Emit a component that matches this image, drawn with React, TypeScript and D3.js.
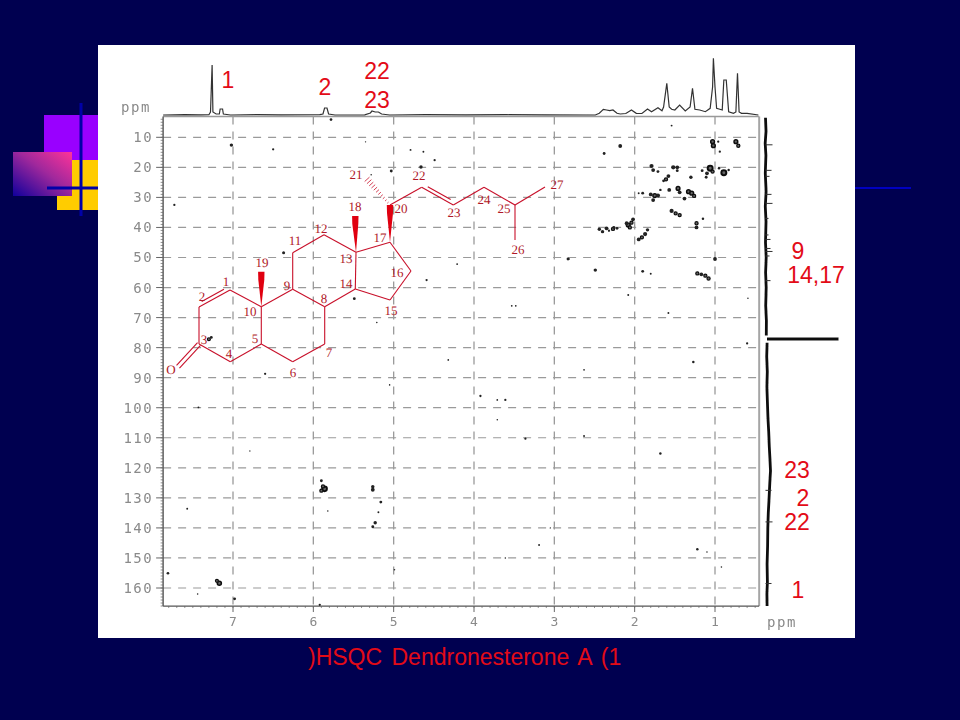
import React from "react";
import * as d3 from "d3";

const xTicks = [1, 2, 3, 4, 5, 6, 7];
const yTicks = [10, 20, 30, 40, 50, 60, 70, 80, 90, 100, 110, 120, 130, 140, 150, 160];

// [1H ppm, 13C ppm, contour size]
const crossPeaks: [number, number, number][] = [
  [1.03,11.45,3],[1.02,12.8,3],[0.96,11.45,1.2],[0.94,14.8,1.2],[0.74,11.45,3],[0.71,12.8,2.5],[2.18,12.9,2],[2.38,15.4,1.5],
  [1.79,19.55,2.2],[1.77,20.9,2],[1.71,21.4,1.5],[1.52,20,2.2],[1.47,20,2],[1.47,21.1,1.5],
  [1.06,20.3,4],[1.03,21.4,2.5],[1.10,22,2],[1.11,23.3,1.5],[1.16,21.1,1.5],
  [0.89,21.8,4],[0.95,20.3,1.3],[0.83,20.9,1.3],[1.30,23.3,1.8],
  [1.58,22.9,2],[1.61,24,2.5],[1.64,24.5,1.5],[1.57,27.5,2],[1.68,27.5,1.3],
  [1.46,27,3],[1.44,28.3,2],[1.33,28.1,3],[1.29,28.6,3],[1.26,29.5,2.5],[1.38,30.4,2],
  [1.75,29.4,3],[1.71,29.4,2.2],[1.77,30.9,2],[1.80,29,2],[1.95,28.6,1],[1.90,28.6,1.5],
  [1.54,34.5,2.2],[1.49,35.3,2.5],[1.44,35.9,2.5],
  [1.23,38.6,2.5],[1.23,40,2],[1.15,37.1,1.3],
  [2.08,39.2,3],[2.04,38.4,2.5],[2.02,37.3,2],[2.10,38.6,2],[2.06,40,2.5],
  [2.44,40.6,1.8],[2.40,41.4,1.8],[2.35,40.3,2],[2.32,41.1,1.2],[2.27,40.5,2.5],[2.26,40,1.5],[2.22,40.3,1.5],
  [1.95,44,2],[1.91,43.3,2.5],[1.87,42.2,2.2],[1.84,40.8,1.8],[1.00,50.5,2],[2.83,50.5,1.5],
  [2.49,54.2,1.8],[1.90,54.6,1.5],[1.80,55.4,1],[1.22,55.3,2.5],[1.17,55.6,2],[1.12,56.05,2.5],[1.08,57,2.5],
  [2.08,62.5,1],[1.54,6.1,1],[0.59,63.6,0.8],
  [7.02,12.6,1.8],[6.50,14.0,1.2],[7.73,32.5,1.2],[5.78,4.1,1.4],[5.35,11.5,0.7],[4.79,14.2,1],
  [4.63,14.8,1],[4.49,17.6,1.2],[4.66,19.9,1.8],[5.03,21.2,1.5],[5.28,22.5,0.8],
  [6.37,48.4,1.6],[7.30,77.2,2.4],[7.27,76.6,1.5],[6.60,88.7,1.2],[5.49,63.7,1.5],[5.21,71.6,0.8],[4.59,57.5,1.2],
  [5.05,92.4,0.8],[7.43,99.9,1],[7.57,133.6,1],[6.79,114.4,0.7],[7.81,155.1,1.4],[7.17,158.4,3.2],[7.20,157.6,2.4],
  [7.44,162,0.8],[6.98,163.6,1.5],[5.92,165.6,1.2],[5.90,124.3,1.5],[5.86,127,3.8],[5.90,127.6,2.5],[5.88,126.2,2.5],
  [5.82,134.4,0.8],[5.26,126.3,1.8],[5.26,127.3,2],[5.16,131.4,1.5],[5.19,134.8,1],[5.23,138.3,1.8],
  [5.26,139.6,1.5],[4.99,153.9,0.8],[3.92,96.1,1.2],[3.61,97.4,1.2],[3.71,97.4,0.9],[3.71,104,0.8],
  [3.36,110.3,1.2],[2.63,109.4,1],[3.53,66.1,0.9],[3.48,66.1,0.9],[4.21,52.2,1],[2.82,50.5,1],
  [4.32,84.1,0.9],[2.63,87.4,0.9],[1.27,84.8,1.3],[0.60,78.6,1.2],[1.58,68.5,1],[1.68,115.2,1.3],
  [1.22,147.1,1.3],[1.10,148,0.8],[0.92,153,0.8],[3.19,145.7,1],[3.61,150,0.8],[3.05,140,0.7],
];

// top 1H projection [ppm, intensity]
const protonTrace: [number, number][] = [
  [7.87,0],[7.6,0.4],[7.4,0.2],[7.30,0.3],[7.28,3],[7.26,50],[7.25,3],[7.21,1],[7.17,1],[7.16,6],[7.13,6],[7.12,1],[7.03,0],
  [6.7,0.4],[6.4,0.1],[5.92,0.3],[5.88,1],[5.86,7],[5.83,7],[5.81,1],[5.73,0],[5.36,0.2],[5.29,2],[5.27,4],[5.23,3],[5.19,3],[5.15,1],[5.05,0],
  [4.6,0.3],[4.1,0.1],[3.6,0.3],[3.1,0.1],
  [2.49,0],[2.44,1.7],[2.39,5.7],[2.35,5],[2.31,4.3],[2.27,5],[2.22,1.7],[2.18,1],[2.11,1.5],[2.04,5],[1.98,1.7],
  [1.91,1.5],[1.84,6],[1.79,3.3],[1.71,7.3],[1.66,4.3],[1.64,8],[1.60,31.7],[1.57,8],[1.54,5.7],[1.50,5],
  [1.44,10],[1.37,4],[1.31,8],[1.28,26.7],[1.25,5.7],[1.19,5],[1.12,3.3],[1.06,6.7],[1.03,28],[1.02,56.7],
  [1.00,28],[0.98,6.7],[0.94,5.7],[0.91,5],[0.89,35],[0.86,35],[0.83,3.3],[0.77,1.7],[0.74,3],[0.72,41.7],
  [0.70,3],[0.67,1.7],[0.60,1.7],[0.46,0],
];

// right 13C projection [ppm, offset]
const carbonUpper: [number, number][] = [
  [3.5,0],[8,0.5],[12,-0.3],[16,0.4],[22,-0.2],[28,0.6],[33,-0.2],[38,0.5],[45,0],[50,0.7],[55,0.1],[60,0.7],[66,0.2],[71,0.9],[76,0.8],
];
const carbonLower: [number, number][] = [
  [78.4,1.6],[83,1.2],[88,1.8],[93,1.4],[98,1.9],[103,2.4],[108,3.2],[113,3.8],[118,4.6],[121,5],[125,4.3],[130,3.6],[135,2.8],[140,2.3],[146,2.1],[152,1.6],[158,1.9],[162,1.4],[166,1.6],
];
const carbonSolvent: [number, number][] = [[77.1,1.5],[77.1,73]];
const carbonTicks: [number, number][] = [[12.5,7],[21,6],[23,4],[29,6],[32,7],[37,3],[42.5,3],[44,5],[47,5],[48,7],[49.5,4],[57.7,5],[127.5,6],[138,7],[158.5,6]];

// steroid drawing, in drawing units
const atoms: Record<string, [number, number]> = {
  C1:[60,120],C2:[29,137],C3:[29,174],C4:[60.3,191.7],C5:[91.3,174],C10:[91.3,136.7],C6:[122.7,191.7],
  C7:[154.7,174],C8:[154.7,136.7],C9:[122.7,119.3],C11:[122.7,82.7],C12:[154,64.7],C13:[186,82.3],
  C14:[185.3,119],C15:[220,130],C16:[241,101],C17:[220,72.3],C20:[220,35],C22:[251.7,17.3],C23:[283.3,35],
  C24:[314,17.3],C25:[345,35],C26:[345,70],C27:[375,17],O:[8,196.7],Me19:[91.3,101.7],Me18:[185.3,46],Me21:[195,7],
};
const bonds: [string, string][] = [
  ["C1","C2"],["C2","C3"],["C3","C4"],["C4","C5"],["C5","C10"],["C10","C1"],["C5","C6"],["C6","C7"],["C7","C8"],
  ["C8","C9"],["C9","C10"],["C9","C11"],["C11","C12"],["C12","C13"],["C13","C14"],["C14","C8"],["C14","C15"],
  ["C15","C16"],["C16","C17"],["C17","C13"],["C20","C22"],["C22","C23"],["C23","C24"],["C24","C25"],["C25","C26"],["C25","C27"],
];
const doubleBonds: [string, string, number, number][] = [["C1","C2",3.5,5],["C22","C23",-3.5,5],["C3","O",2,0],["C3","O",-2,0]];
const wedges: [string, string][] = [["C10","Me19"],["C13","Me18"],["C17","C20"]];
const atomLabels: [string, number, number][] = [
  ["1",56,111],["2",32,126],["3",34,169],["4",59,183],["5",85,168],["6",123,202],["7",159,182],["8",154,128],
  ["9",117,115],["10",80,141],["11",125,70],["12",151,58],["13",176,88],["14",176,113],["15",221,140],["16",227,102],
  ["17",210,67],["18",185,36],["19",92,92],["20",231,38],["21",186,4],["22",249,5],["23",284,42],["24",314,29],
  ["25",334,38],["26",348,79],["27",387,14],["O",1,199],
];

const topLabels: [string, number, number][] = [["1",228,88],["2",325,95],["22",377,79],["23",377,108]];
const sideLabels: [string, number, number][] = [["9",798,259],["14,17",816,283],["23",797,478],["2",803,506],["22",797,530],["1",798,598]];
const caption = ")HSQC Dendronesterone A (1";

const W = 960, H = 720;
const ppmX = d3.scaleLinear().domain([7, 1]).range([233, 715]);
const ppmY = d3.scaleLinear().domain([10, 160]).range([137.3, 588]);
const topI = d3.scaleLinear().domain([0, 50]).range([115, 65]);
const rightI = d3.scaleLinear().domain([0, 72]).range([765.5, 837.5]);
const molX = d3.scaleLinear().domain([0, 400]).range([170, 570]);
const molY = d3.scaleLinear().domain([0, 200]).range([170, 370]);
const left = ppmX(7.87), right = ppmX(0.45), top = ppmY(3.1), bottom = ppmY(166);

const protonLine = d3.line<[number, number]>().x(d => ppmX(d[0])).y(d => topI(d[1]));
const carbonLine = d3.line<[number, number]>().x(d => rightI(d[1])).y(d => ppmY(d[0]));
const pt = (k: string): [number, number] => [molX(atoms[k][0]), molY(atoms[k][1])];
const MOL = "#c8102a";
const GRID = "#9a9a9a";
const LAB = "#8a8a8a";
const RED = "#e30b17";

export default function App() {
  const minorY = d3.range(4, 167);
  const minorX = d3.range(0.5, 7.85, 0.1);
  const [a21x, a21y] = pt("Me21");
  const [a20x, a20y] = pt("C20");
  return (
    <svg width={W} height={H} viewBox={`0 0 ${W} ${H}`} style={{ position: "absolute", left: 0, top: 0, display: "block" }}>
      <defs>
        <linearGradient id="pinkGrad" x1="0" y1="1" x2="1" y2="0">
          <stop offset="0" stopColor="#10009c" />
          <stop offset="0.55" stopColor="#a0289c" />
          <stop offset="1" stopColor="#ff3399" />
        </linearGradient>
        <filter id="soft" filterUnits="userSpaceOnUse" x="98" y="45" width="757" height="593">
          <feGaussianBlur stdDeviation="0.5" />
        </filter>
      </defs>
      <rect width={W} height={H} fill="#000050" />
      <rect x={44} y={115} width={56} height={45} fill="#9900ff" />
      <rect x={57} y={160} width={43} height={50} fill="#ffcc00" />
      <rect x={13} y={152} width={59} height={44} fill="url(#pinkGrad)" />
      <line x1={81} x2={81} y1={103} y2={216} stroke="#0000a8" strokeWidth={3} />
      <line x1={47} x2={100} y1={188} y2={188} stroke="#0000a8" strokeWidth={3} />
      <line x1={855} x2={911} y1={188} y2={188} stroke="#0000c0" strokeWidth={2} />
      <rect x={98} y={45} width={757} height={593} fill="#ffffff" />

      <g filter="url(#soft)">
        {yTicks.map(t => (
          <line key={t} x1={left} x2={right} y1={ppmY(t)} y2={ppmY(t)} stroke={GRID} strokeWidth={1.2} strokeDasharray="8 7" />
        ))}
        {xTicks.map(t => (
          <line key={t} x1={ppmX(t)} x2={ppmX(t)} y1={top} y2={bottom} stroke={GRID} strokeWidth={1.3} strokeDasharray="8 7" />
        ))}
        <line x1={left} x2={right} y1={top} y2={top} stroke="#999" strokeWidth={1.6} />
        <line x1={right} x2={right} y1={top} y2={bottom} stroke="#a5a5a5" strokeWidth={2} />
        <line x1={left} x2={left} y1={top} y2={bottom} stroke="#555" strokeWidth={1.4} />
        <line x1={left} x2={right} y1={bottom} y2={bottom} stroke="#555" strokeWidth={1.2} />
        {minorY.map(t => (
          <line key={t} x1={left - 2.5} x2={left} y1={ppmY(t)} y2={ppmY(t)} stroke="#666" strokeWidth={0.7} />
        ))}
        {yTicks.map(t => (
          <line key={t} x1={left - 7} x2={left} y1={ppmY(t)} y2={ppmY(t)} stroke="#666" strokeWidth={1} />
        ))}
        {minorX.map(t => (
          <line key={t} x1={ppmX(t)} x2={ppmX(t)} y1={bottom} y2={bottom + 2} stroke="#666" strokeWidth={0.7} />
        ))}
        {xTicks.map(t => (
          <line key={t} x1={ppmX(t)} x2={ppmX(t)} y1={bottom} y2={bottom + 6} stroke="#666" strokeWidth={1} />
        ))}
        {yTicks.map(t => (
          <text key={t} x={153} y={ppmY(t) + 5} textAnchor="end" fontFamily="DejaVu Sans Mono" fontSize={14} letterSpacing={1.4} fill={LAB}>{t}</text>
        ))}
        {xTicks.map(t => (
          <text key={t} x={ppmX(t)} y={bottom + 20} textAnchor="middle" fontFamily="DejaVu Sans Mono" fontSize={13} fill={LAB}>{t}</text>
        ))}
        <text x={121} y={112} fontFamily="DejaVu Sans Mono" fontSize={14} letterSpacing={1.6} fill={LAB}>ppm</text>
        <text x={767} y={627} fontFamily="DejaVu Sans Mono" fontSize={14} letterSpacing={1.6} fill={LAB}>ppm</text>

        <path d={protonLine(protonTrace) ?? ""} fill="none" stroke="#333" strokeWidth={1.2} />
        <path d={carbonLine(carbonUpper) ?? ""} fill="none" stroke="#111" strokeWidth={2.8} strokeLinejoin="round" />
        <path d={carbonLine(carbonLower) ?? ""} fill="none" stroke="#111" strokeWidth={2.8} strokeLinejoin="round" />
        <path d={carbonLine(carbonSolvent) ?? ""} fill="none" stroke="#111" strokeWidth={3} />
        {carbonTicks.map(([d, i]) => (
          <line key={d} x1={rightI(0)} x2={rightI(i)} y1={ppmY(d)} y2={ppmY(d)} stroke="#333" strokeWidth={1} />
        ))}
        {crossPeaks.map(([h, c, r], i) => (
          r >= 2.4
            ? <circle key={i} cx={ppmX(h)} cy={ppmY(c)} r={r * 0.62} fill="#666" stroke="#111" strokeWidth={r * 0.5} />
            : <circle key={i} cx={ppmX(h)} cy={ppmY(c)} r={r * 0.95} fill="#222" />
        ))}
      </g>

      <g>
        {bonds.map(([a, b]) => {
          const [x1, y1] = pt(a), [x2, y2] = pt(b);
          return <line key={a + b} x1={x1} y1={y1} x2={x2} y2={y2} stroke={MOL} strokeWidth={1.1} />;
        })}
        {doubleBonds.map(([a, b, off, trim], i) => {
          const [x1, y1] = pt(a), [x2, y2] = pt(b);
          const len = Math.hypot(x2 - x1, y2 - y1);
          const ux = (x2 - x1) / len, uy = (y2 - y1) / len;
          const nx = -uy * off, ny = ux * off;
          return <line key={i} x1={x1 + nx + ux * trim} y1={y1 + ny + uy * trim} x2={x2 + nx - ux * trim} y2={y2 + ny - uy * trim} stroke={MOL} strokeWidth={1.1} />;
        })}
        {wedges.map(([a, b]) => {
          const [x1, y1] = pt(a), [x2, y2] = pt(b);
          const neck = y2 + 8;
          return <polygon key={a + b} points={`${x1},${y1} ${x2 - 3},${neck} ${x2 - 3.2},${y2} ${x2 + 3.2},${y2} ${x2 + 3},${neck}`} fill="#e00010" />;
        })}
        {d3.range(1, 12).map(i => {
          const t = i / 12;
          const cx = a20x + (a21x - a20x) * t, cy = a20y + (a21y - a20y) * t;
          const w = 0.5 + 3 * t;
          return <line key={i} x1={cx - w * 0.74} y1={cy + w * 0.67} x2={cx + w * 0.74} y2={cy - w * 0.67} stroke={MOL} strokeWidth={0.8} />;
        })}
        {atomLabels.map(([s, x, y]) => (
          <text key={s} x={molX(x)} y={molY(y) + 4.5} textAnchor="middle" fontFamily="Liberation Serif" fontSize={13} fill="#b01828" style={{ textRendering: "geometricPrecision" }}>{s}</text>
        ))}
      </g>

      {topLabels.concat(sideLabels).map(([s, x, y]) => (
        <text key={s + x + y} x={x} y={y} textAnchor="middle" fontFamily="Liberation Sans" fontSize={23} fill={RED}>{s}</text>
      ))}
      <text x={308} y={665} fontFamily="Liberation Sans" fontSize={23} wordSpacing={3} fill={RED}>{caption}</text>
    </svg>
  );
}
